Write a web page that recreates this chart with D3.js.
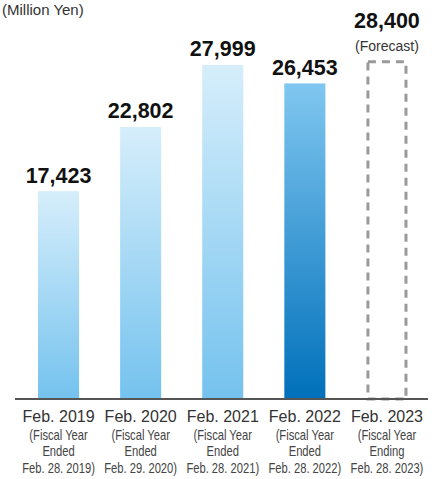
<!DOCTYPE html>
<html>
<head>
<meta charset="utf-8">
<script src="https://cdn.jsdelivr.net/npm/d3@7"></script>
<style>
  body { margin: 0; background: #fff; }
  svg { display: block; font-family: "Liberation Sans", Arial, sans-serif; }
</style>
</head>
<body>
<svg id="chart" width="438" height="479"></svg>
<script>
// chart data
const years = ["Feb. 2019", "Feb. 2020", "Feb. 2021", "Feb. 2022", "Feb. 2023"];
const sales = [17423, 22802, 27999, 26453, 28400];
const subLabels = [
  ["(Fiscal Year", "Ended", "Feb. 28. 2019)"],
  ["(Fiscal Year", "Ended", "Feb. 29. 2020)"],
  ["(Fiscal Year", "Ended", "Feb. 28. 2021)"],
  ["(Fiscal Year", "Ended", "Feb. 28. 2022)"],
  ["(Fiscal Year", "Ending", "Feb. 28. 2023)"]
];
const kinds = ["past", "past", "past", "latest", "forecast"];

var svg = d3.select("#chart");
var baseY = 399;

var x = d3.scaleBand()
  .domain(years)
  .range([17.5, 428])
  .paddingInner(0.5)
  .paddingOuter(0.25);

var y = d3.scaleLinear()
  .domain([0, 30000])
  .range([baseY, baseY - 30000 * 0.01193]);

var defs = svg.append("defs");
var g1 = defs.append("linearGradient").attr("id", "gPast")
  .attr("x1", 0).attr("y1", 0).attr("x2", 0).attr("y2", 1);
g1.append("stop").attr("offset", "0%").attr("stop-color", "#d6eefb");
g1.append("stop").attr("offset", "100%").attr("stop-color", "#74c2ee");

var g2 = defs.append("linearGradient").attr("id", "gLatest")
  .attr("x1", 0).attr("y1", 0).attr("x2", 0).attr("y2", 1);
g2.append("stop").attr("offset", "0%").attr("stop-color", "#80c7f0");
g2.append("stop").attr("offset", "100%").attr("stop-color", "#0070ba");

// unit
svg.append("text")
  .attr("x", 2).attr("y", 15)
  .attr("font-size", 15).attr("fill", "#333")
  .text("(Million Yen)");

var rows = years.map((d, i) => ({ year: d, v: sales[i], kind: kinds[i], sub: subLabels[i] }));

// bars
svg.selectAll("rect.bar")
  .data(rows.filter(d => d.kind != "forecast"))
  .join("rect")
  .attr("class", "bar")
  .attr("x", d => x(d.year))
  .attr("width", x.bandwidth())
  .attr("y", d => y(d.v))
  .attr("height", d => y(0) - y(d.v))
  .attr("fill", d => d.kind == "latest" ? "url(#gLatest)" : "url(#gPast)");

// forecast box
var fc = rows.filter(d => d.kind == "forecast");
svg.selectAll("rect.fc")
  .data(fc)
  .join("rect")
  .attr("class", "fc")
  .attr("x", d => x(d.year) + 1.5)
  .attr("width", x.bandwidth() - 3)
  .attr("y", d => y(d.v) + 1.5)
  .attr("height", d => y(0) - y(d.v) - 1.5)
  .attr("fill", "none")
  .attr("stroke", "#9a9a9a")
  .attr("stroke-width", 3)
  .attr("stroke-dasharray", "8,6");

// value labels
svg.selectAll("text.val")
  .data(rows)
  .join("text")
  .attr("class", "val")
  .attr("x", d => x(d.year) + x.bandwidth() / 2)
  .attr("y", d => y(d.v) - (d.kind == "forecast" ? 32 : 8.5))
  .attr("text-anchor", "middle")
  .attr("font-size", 21.5)
  .attr("font-weight", "bold")
  .attr("fill", "#111")
  .text(d => d3.format(",")(d.v));

svg.selectAll("text.fcnote")
  .data(fc)
  .join("text")
  .attr("class", "fcnote")
  .attr("x", d => x(d.year) + x.bandwidth() / 2)
  .attr("y", d => y(d.v) - 9)
  .attr("text-anchor", "middle")
  .attr("font-size", 14)
  .attr("fill", "#333")
  .text("(Forecast)");

// axis
var axis = svg.append("g")
  .attr("transform", `translate(0,${baseY})`)
  .call(d3.axisBottom(x).tickSize(0).tickPadding(0));
axis.select(".domain")
  .attr("d", "M15,0H428")
  .attr("stroke", "#555")
  .attr("stroke-width", 2);
axis.selectAll(".tick text").remove();

var ticks = axis.selectAll(".tick");
ticks.append("text")
  .attr("y", 23)
  .attr("text-anchor", "middle")
  .attr("font-size", 16)
  .attr("fill", "#333")
  .attr("font-family", "'Liberation Sans', Arial, sans-serif")
  .text(d => d);

// condensed sub lines (squeezed horizontally)
ticks.each(function(d, i) {
  var t = d3.select(this).append("g").attr("transform", "scale(0.8,1)");
  subLabels[i].forEach((s, k) => {
    t.append("text")
      .attr("y", 41 + k * 16.5)
      .attr("text-anchor", "middle")
      .attr("font-size", 14)
      .attr("fill", "#444")
      .attr("font-family", "'Liberation Sans', Arial, sans-serif")
      .text(s);
  });
});
</script>
</body>
</html>
